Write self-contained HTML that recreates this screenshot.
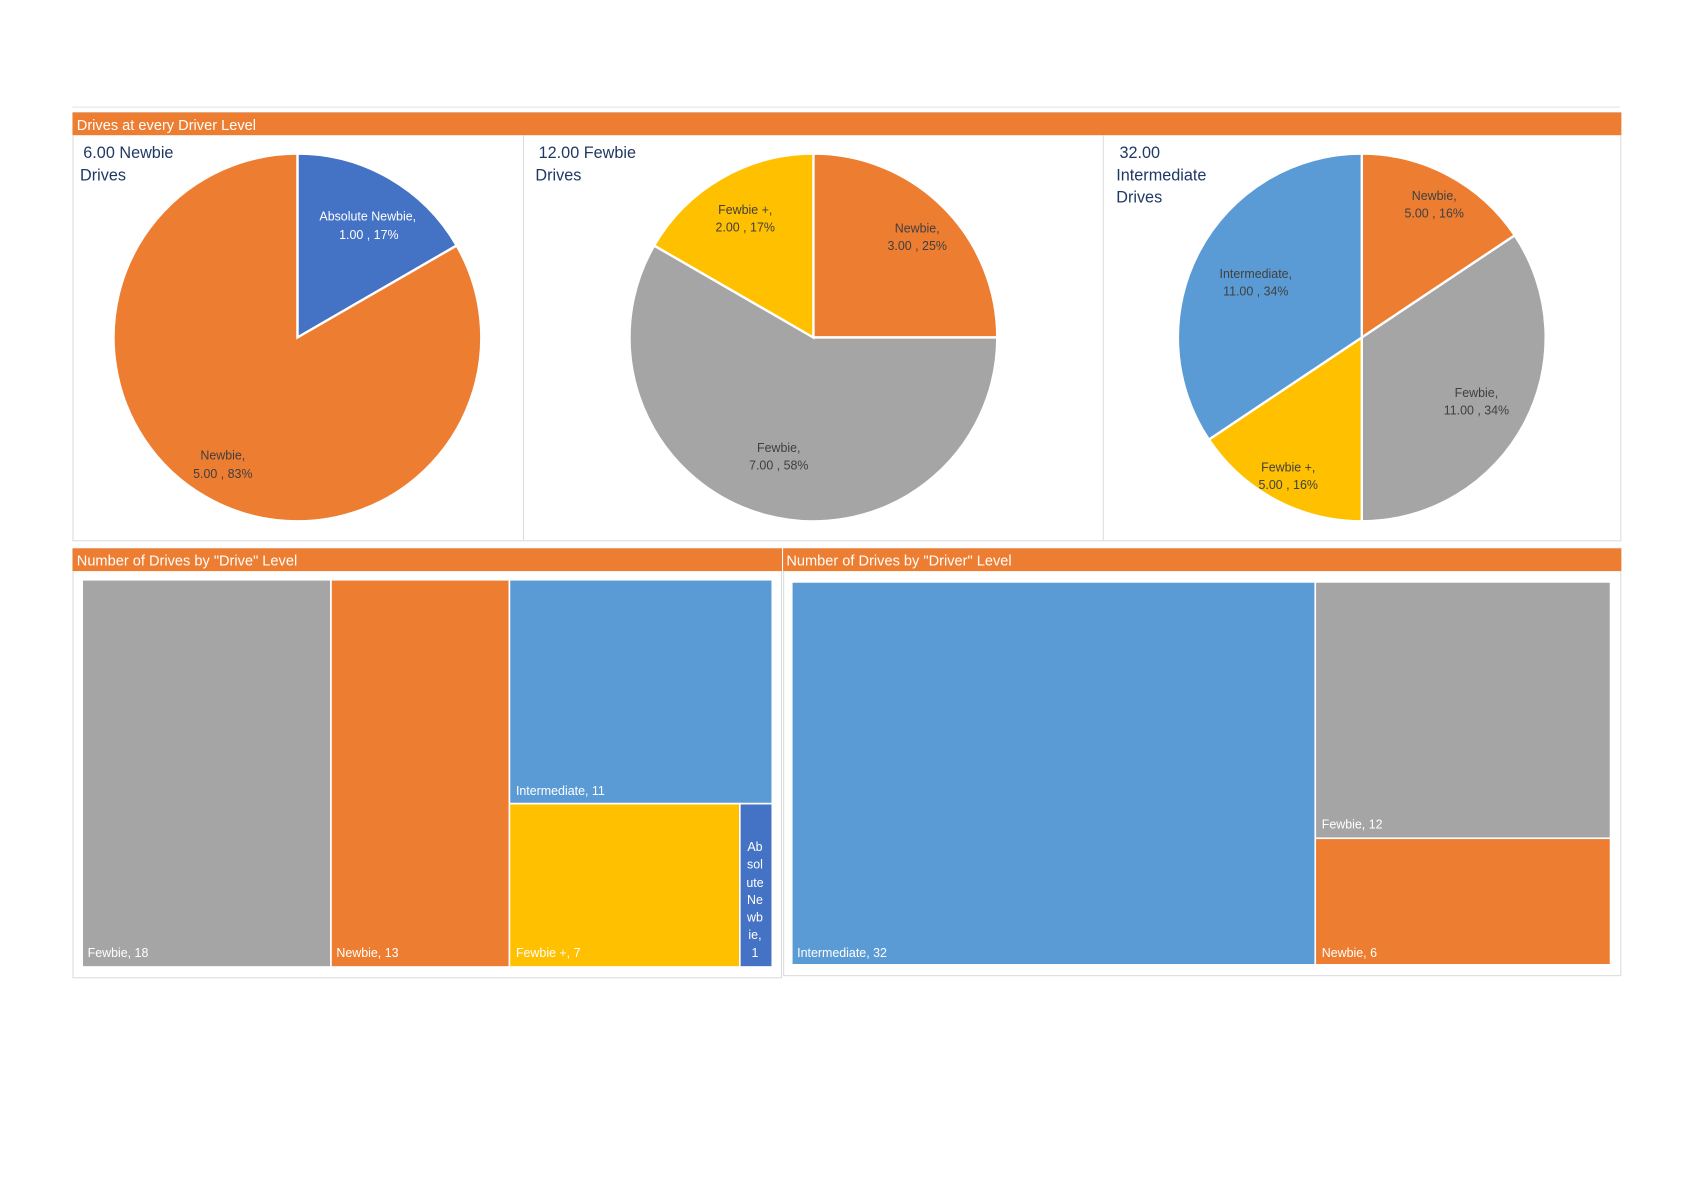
<!DOCTYPE html>
<html><head><meta charset="utf-8"><style>
html,body{margin:0;padding:0;background:#fff;}
svg{display:block;}
text{font-family:"Liberation Sans",sans-serif;}
</style></head><body>
<svg width="1696" height="1199" viewBox="0 0 1568 1108.5" xmlns="http://www.w3.org/2000/svg">
<rect width="1568" height="1108.5" fill="#fff"/>
<line x1="67" y1="99" x2="1498" y2="99" stroke="#e4e4e4" stroke-width="1"/>
<!-- top panel -->
<rect x="67.5" y="104" width="1431" height="396" fill="#fff" stroke="#dcdcdc"/>
<rect x="67" y="104" width="1432" height="21" fill="#ED7D31"/>
<text x="71" y="120" font-size="13.5" fill="#fff">Drives at every Driver Level</text>
<line x1="484" y1="125" x2="484" y2="500" stroke="#dcdcdc"/>
<line x1="1020" y1="125" x2="1020" y2="500" stroke="#dcdcdc"/>

<g stroke="#fff" stroke-width="2.2">
<!-- pie1 -->
<path d="M275,312 L275,142 A170,170 0 0 1 422.2,227 Z" fill="#4472C4"/>
<path d="M275,312 L422.2,227 A170,170 0 1 1 275,142 Z" fill="#ED7D31"/>
<!-- pie2 -->
<path d="M752,312 L752,142 A170,170 0 0 1 922,312 Z" fill="#ED7D31"/>
<path d="M752,312 L922,312 A170,170 0 1 1 604.8,227 Z" fill="#A5A5A5"/>
<path d="M752,312 L604.8,227 A170,170 0 0 1 752,142 Z" fill="#FFC000"/>
<!-- pie3 -->
<path d="M1259,312 L1259,142 A170,170 0 0 1 1400.4,217.6 Z" fill="#ED7D31"/>
<path d="M1259,312 L1400.4,217.6 A170,170 0 0 1 1259,482 Z" fill="#A5A5A5"/>
<path d="M1259,312 L1259,482 A170,170 0 0 1 1117.6,406.4 Z" fill="#FFC000"/>
<path d="M1259,312 L1117.6,406.4 A170,170 0 0 1 1259,142 Z" fill="#5B9BD5"/>
</g>

<g font-size="15" fill="#1F3864">
<text x="77" y="146">6.00 Newbie</text><text x="74" y="167">Drives</text>
<text x="498" y="146">12.00 Fewbie</text><text x="495" y="167">Drives</text>
<text x="1035" y="146">32.00</text><text x="1032" y="167">Intermediate</text><text x="1032" y="187">Drives</text>
</g>
<g font-size="11.5" text-anchor="middle" fill="#404040">
<text x="340" y="204" fill="#fff">Absolute Newbie,</text><text x="341" y="221" fill="#fff">1.00 , 17%</text>
<text x="206" y="425">Newbie,</text><text x="206" y="442">5.00 , 83%</text>
<text x="848" y="215">Newbie,</text><text x="848" y="231">3.00 , 25%</text>
<text x="689" y="198">Fewbie +,</text><text x="689" y="214">2.00 , 17%</text>
<text x="720" y="418">Fewbie,</text><text x="720" y="434">7.00 , 58%</text>
<text x="1326" y="185">Newbie,</text><text x="1326" y="201">5.00 , 16%</text>
<text x="1365" y="367">Fewbie,</text><text x="1365" y="383">11.00 , 34%</text>
<text x="1191" y="436">Fewbie +,</text><text x="1191" y="452">5.00 , 16%</text>
<text x="1161" y="257">Intermediate,</text><text x="1161" y="273">11.00 , 34%</text>
</g>

<!-- bottom left -->
<rect x="67.5" y="507" width="655" height="397" fill="#fff" stroke="#dcdcdc"/>
<rect x="67" y="507" width="656" height="21" fill="#ED7D31"/>
<text x="71" y="523" font-size="13.5" fill="#fff">Number of Drives by "Drive" Level</text>
<g stroke="#fff" stroke-width="1.5">
<rect x="76" y="536" width="230" height="358" fill="#A5A5A5"/>
<rect x="306" y="536" width="165" height="358" fill="#ED7D31"/>
<rect x="471" y="536" width="243" height="207" fill="#5B9BD5"/>
<rect x="471" y="743" width="213" height="151" fill="#FFC000"/>
<rect x="684" y="743" width="30" height="151" fill="#4472C4"/>
</g>
<g font-size="11.5" fill="#fff">
<text x="81" y="885">Fewbie,  18</text>
<text x="311" y="885">Newbie,  13</text>
<text x="477" y="735">Intermediate,  11</text>
<text x="477" y="885">Fewbie +,  7</text>
<g text-anchor="middle">
<text x="698" y="787">Ab</text><text x="698" y="803">sol</text><text x="698" y="820">ute</text><text x="698" y="836">Ne</text><text x="698" y="852">wb</text><text x="698" y="868">ie,</text><text x="698" y="885">1</text>
</g>
</g>

<!-- bottom right -->
<rect x="724.5" y="507" width="774" height="395" fill="#fff" stroke="#dcdcdc"/>
<rect x="724" y="507" width="775" height="21" fill="#ED7D31"/>
<text x="727" y="523" font-size="13.5" fill="#fff">Number of Drives by "Driver" Level</text>
<g stroke="#fff" stroke-width="1.5">
<rect x="732" y="538" width="484" height="354" fill="#5B9BD5"/>
<rect x="1216" y="538" width="273" height="237" fill="#A5A5A5"/>
<rect x="1216" y="775" width="273" height="117" fill="#ED7D31"/>
</g>
<g font-size="11.5" fill="#fff">
<text x="737" y="885">Intermediate,  32</text>
<text x="1222" y="766">Fewbie,  12</text>
<text x="1222" y="885">Newbie,  6</text>
</g>
</svg>
</body></html>
